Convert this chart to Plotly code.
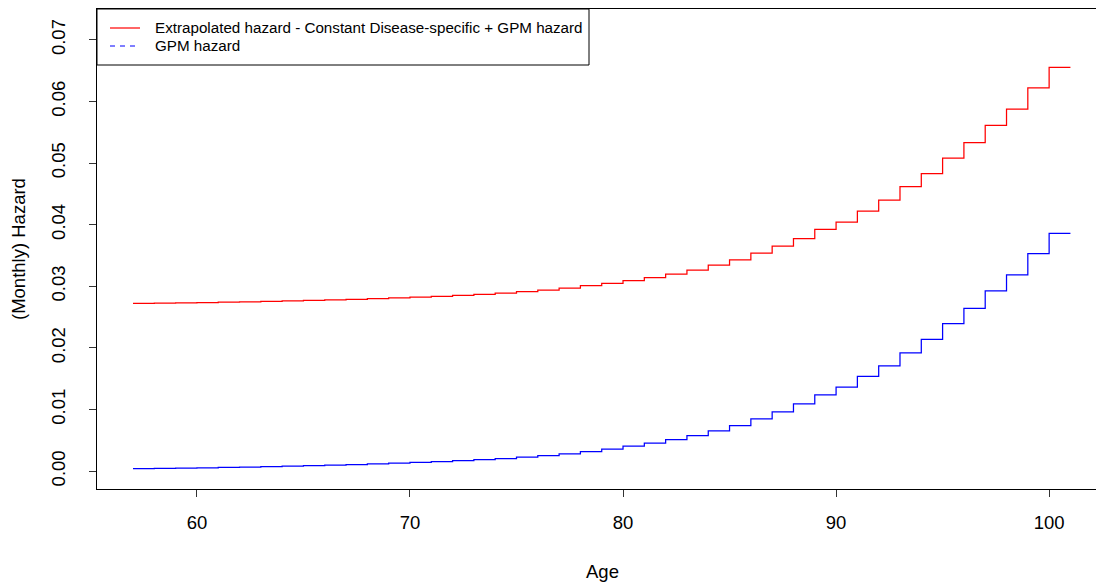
import plotly.graph_objects as go

# Age (years) at the start of each one-year band
ages = list(range(57, 101))

# Monthly general-population (GPM) hazard by age band
gpm_hazard = [
    0.00040, 0.00044, 0.00049, 0.00054, 0.00060, 0.00066, 0.00073, 0.00080,
    0.00088, 0.00097, 0.00107, 0.00118, 0.00130, 0.00143, 0.00156, 0.00170,
    0.00186, 0.00205, 0.00228, 0.00252, 0.00282, 0.00318, 0.00358, 0.00405,
    0.00455, 0.00510, 0.00575, 0.00652, 0.00740, 0.00848, 0.00963, 0.01093,
    0.01239, 0.01365, 0.01537, 0.01710, 0.01921, 0.02138, 0.02392, 0.02640,
    0.02927, 0.03187, 0.03528, 0.03858,
]

# Extrapolated hazard: constant disease-specific part plus GPM hazard
extrap_hazard = [
    0.02722, 0.02726, 0.02731, 0.02736, 0.02742, 0.02748, 0.02755, 0.02762,
    0.02770, 0.02779, 0.02789, 0.02800, 0.02812, 0.02825, 0.02838, 0.02852,
    0.02868, 0.02890, 0.02912, 0.02938, 0.02970, 0.03010, 0.03047, 0.03093,
    0.03140, 0.03198, 0.03263, 0.03345, 0.03430, 0.03538, 0.03653, 0.03775,
    0.03922, 0.04042, 0.04221, 0.04399, 0.04616, 0.04827, 0.05081, 0.05330,
    0.05611, 0.05877, 0.06218, 0.06553,
]

x_ticks = [60, 70, 80, 90, 100]
y_ticks = [0.00, 0.01, 0.02, 0.03, 0.04, 0.05, 0.06, 0.07]

legend_labels = [
    "Extrapolated hazard - Constant Disease-specific + GPM hazard",
    "GPM hazard",
]

FONT = "Liberation Sans, Arial, Helvetica, sans-serif"
RED = "#ff0000"
BLUE = "#0000ff"

# each band holds its value until the next birthday; close the last band at 101
x_steps = ages + [ages[-1] + 1]
red_steps = extrap_hazard + [extrap_hazard[-1]]
blue_steps = gpm_hazard + [gpm_hazard[-1]]

fig = go.Figure()
fig.add_trace(go.Scatter(
    x=x_steps, y=red_steps, mode="lines", line_shape="hv",
    line=dict(color=RED, width=1.25), name=legend_labels[0], showlegend=False,
))
fig.add_trace(go.Scatter(
    x=x_steps, y=blue_steps, mode="lines", line_shape="hv",
    line=dict(color=BLUE, width=1.25), name=legend_labels[1], showlegend=False,
))

W, H = 1096, 583
ML, MR, MT, MB = 97, 0, 9, 94
pw, ph = W - ML - MR, H - MT - MB

def px_x(px):
    return (px - ML) / pw

def px_y(py):
    return (H - MB - py) / ph

fig.update_layout(
    width=W, height=H,
    margin=dict(l=ML, r=MR, t=MT, b=MB, pad=0),
    paper_bgcolor="white", plot_bgcolor="white",
    font=dict(family=FONT, size=18.5, color="black"),
    xaxis=dict(
        range=[55.31, 102.2], tickvals=x_ticks, ticks="outside", ticklen=7,
        tickcolor="#333333", showline=True, linecolor="black", linewidth=1,
        mirror=True, showgrid=False, zeroline=False, ticklabelstandoff=10,
    ),
    yaxis=dict(
        range=[-0.0029, 0.0750], tickvals=y_ticks, tickformat=".2f",
        ticks="outside", ticklen=7, tickcolor="#333333", tickangle=-90,
        showline=True, linecolor="black", linewidth=1, mirror=False,
        showgrid=False, zeroline=False, ticklabelstandoff=17,
    ),
)

# legend box drawn at the top-left corner of the plot panel
fig.add_shape(type="rect", xref="paper", yref="paper",
              x0=0, x1=px_x(589), y0=px_y(65), y1=1,
              line=dict(color="black", width=1), fillcolor="white")
for label, color, ly, dash in [(legend_labels[0], RED, 28, "solid"),
                               (legend_labels[1], BLUE, 46, "5px,5px")]:
    fig.add_shape(type="line", xref="paper", yref="paper",
                  x0=px_x(110), x1=px_x(140), y0=px_y(ly), y1=px_y(ly),
                  line=dict(color=color, width=1.2, dash=dash))
    fig.add_annotation(xref="paper", yref="paper", x=px_x(153), y=px_y(ly),
                       text=label, showarrow=False, xanchor="left",
                       yanchor="middle", font=dict(size=15.2, family=FONT))

# axis titles
fig.add_annotation(xref="paper", yref="paper", x=px_x(602), y=px_y(571),
                   text="Age", showarrow=False, xanchor="center",
                   yanchor="middle", font=dict(size=18.5, family=FONT))
fig.add_annotation(xref="paper", yref="paper", x=px_x(18), y=px_y(249),
                   text="(Monthly) Hazard", showarrow=False, textangle=-90,
                   xanchor="center", yanchor="middle",
                   font=dict(size=18.5, family=FONT))

fig.write_html("out.html")
